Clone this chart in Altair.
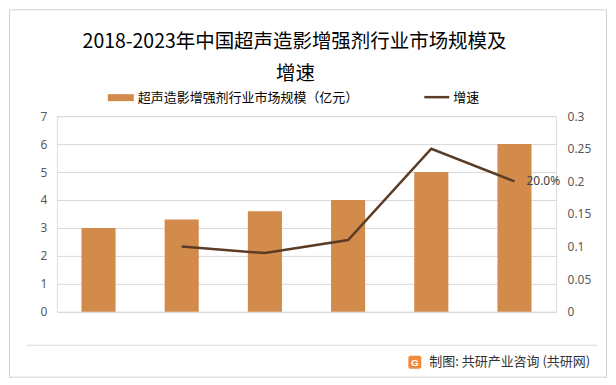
import altair as alt
import pandas as pd

years = ["2018", "2019", "2020", "2021", "2022", "2023"]
market_size = [3.0, 3.3, 3.6, 4.0, 5.0, 6.0]
growth = [None, 0.10, 0.09, 0.11, 0.25, 0.20]

title_lines = ["2018-2023年中国超声造影增强剂行业市场规模及", "增速"]
legend_bar = "超声造影增强剂行业市场规模（亿元）"
legend_line = "增速"
source_text = "制图: 共研产业咨询 (共研网)"

BAR = "#D38B4C"
LINE = "#5B3C26"
FONT = "Noto Sans CJK SC"
NUMFONT = "Noto Sans"

df = pd.DataFrame({"year": years, "size": market_size, "growth": growth})
df_line = df.dropna()
df_last = df_line.tail(1)
one = pd.DataFrame({"a": [0]})

xscale = alt.Scale(paddingInner=0.59, paddingOuter=0.295)
xenc = alt.X("year:N", scale=xscale, sort=years,
             axis=alt.Axis(title=None, labelAngle=0, domain=False, ticks=False,
                           labelPadding=10, labelFontSize=12, labelColor="#404040",
                           labelFont=NUMFONT))

bars = alt.Chart(df).mark_bar(color=BAR).encode(
    x=xenc,
    y=alt.Y("size:Q", scale=alt.Scale(domain=[0, 7]),
            axis=alt.Axis(title=None, values=[0, 1, 2, 3, 4, 5, 6, 7], domain=False,
                          ticks=False, labelPadding=10, labelFontSize=12,
                          labelColor="#595959", gridColor="#D9D9D9", labelFont=NUMFONT)),
)

line = alt.Chart(df_line).mark_line(color=LINE, strokeWidth=2.5).encode(
    x=alt.X("year:N", scale=xscale, sort=years, bandPosition=0.5, axis=None),
    y=alt.Y("growth:Q", scale=alt.Scale(domain=[0, 0.3]),
            axis=alt.Axis(title=None, orient="right", values=[0, 0.05, 0.1, 0.15, 0.2, 0.25, 0.3],
                          format=".2~f", domain=False, ticks=False, grid=False,
                          labelPadding=11, labelFontSize=12, labelColor="#595959",
                          labelFont=NUMFONT)),
)

label = alt.Chart(df_last).mark_text(align="left", dx=12, fontSize=12, color="#404040",
                                     font=NUMFONT).encode(
    x=alt.X("year:N", scale=xscale, sort=years, bandPosition=0.5, axis=None),
    y=alt.Y("growth:Q", scale=alt.Scale(domain=[0, 0.3]), axis=None),
    text=alt.Text("growth:Q", format=".1%"),
)

base = alt.layer(bars, line, label).resolve_scale(y="independent")

# decorations (offsets relative to plot origin)
border = alt.Chart(one).mark_rect(fillOpacity=0, fill="#FFFFFF", stroke="#D0D0D0",
                                  strokeWidth=1).encode(
    x=alt.value(-47.5), x2=alt.value(550.5), y=alt.value(-106.5), y2=alt.value(261.5))
title1 = alt.Chart(one).mark_text(fontSize=19.5, font=FONT, color="#000000", baseline="middle").encode(
    x=alt.value(238), y=alt.value(-74), text=alt.value(title_lines[0]))
title2 = alt.Chart(one).mark_text(fontSize=19.5, font=FONT, color="#000000", baseline="middle").encode(
    x=alt.value(239), y=alt.value(-42), text=alt.value(title_lines[1]))
leg_sw1 = alt.Chart(one).mark_rect(color=BAR).encode(
    x=alt.value(51), x2=alt.value(77), y=alt.value(-22), y2=alt.value(-15))
leg_tx1 = alt.Chart(one).mark_text(align="left", baseline="middle", fontSize=13, font=FONT,
                                   color="#000000").encode(
    x=alt.value(81), y=alt.value(-18), text=alt.value(legend_bar))
leg_sw2 = alt.Chart(one).mark_rule(color=LINE, strokeWidth=2.5).encode(
    x=alt.value(368), x2=alt.value(393), y=alt.value(-19))
leg_tx2 = alt.Chart(one).mark_text(align="left", baseline="middle", fontSize=13, font=FONT,
                                   color="#000000").encode(
    x=alt.value(397), y=alt.value(-18), text=alt.value(legend_line))
divider = alt.Chart(one).mark_rule(color="#D9D9D9", strokeWidth=1).encode(
    x=alt.value(-30), x2=alt.value(541), y=alt.value(229.5))
logo = alt.Chart(one).mark_rect(color="#F08A3C", cornerRadius=2).encode(
    x=alt.value(352), x2=alt.value(365), y=alt.value(240), y2=alt.value(253))
logo_g = alt.Chart(one).mark_text(fontSize=10, fontWeight="bold", color="#FFFFFF",
                                  baseline="middle").encode(
    x=alt.value(358.5), y=alt.value(247), text=alt.value("G"))
source = alt.Chart(one).mark_text(align="left", baseline="middle", fontSize=13, font=FONT,
                                  color="#333333").encode(
    x=alt.value(373), y=alt.value(246), text=alt.value(source_text))

chart = alt.layer(base, border, title1, title2, leg_sw1, leg_tx1, leg_sw2, leg_tx2,
                  divider, logo, logo_g, source).properties(
    width=500, height=196,
    autosize=alt.AutoSizeParams(type="none"),
    padding={"left": 49, "top": 108, "right": 52, "bottom": 67},
).configure_view(stroke=None).configure(background="#FFFFFF")

chart.save("out.html", embed_options={"renderer": "svg", "actions": False})
